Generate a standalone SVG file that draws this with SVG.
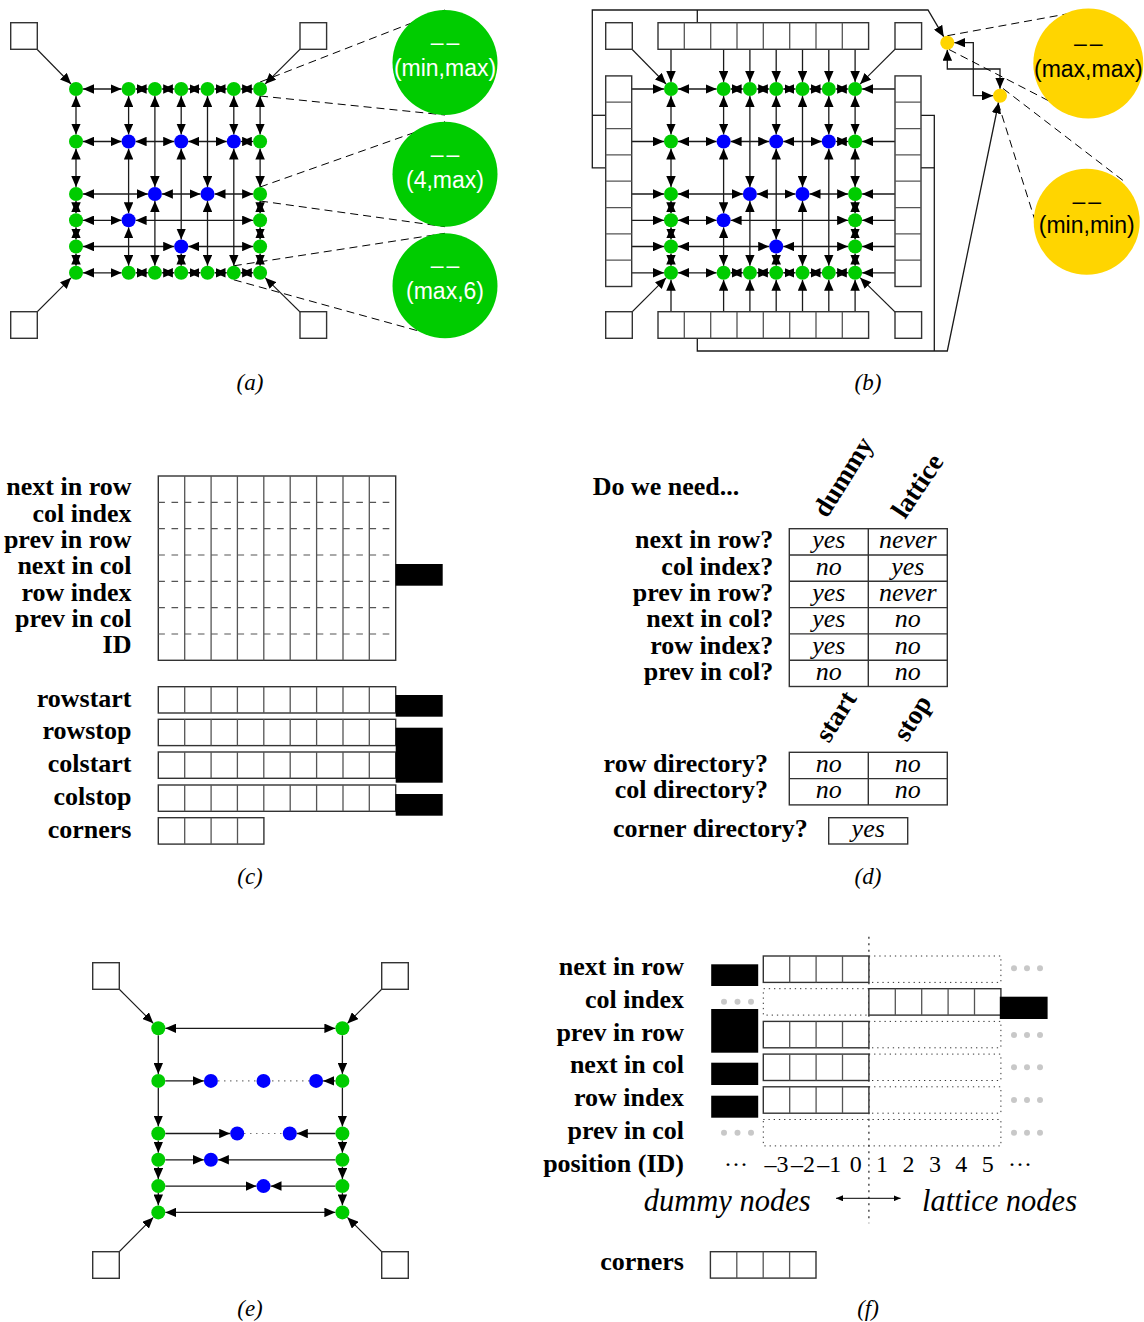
<svg xmlns="http://www.w3.org/2000/svg" xmlns:xlink="http://www.w3.org/1999/xlink" width="1144" height="1322" viewBox="0 0 1144 1322">
<style>
.ln{stroke:#1a1a1a;stroke-width:1.3;fill:none}
.thin{stroke:#1a1a1a;stroke-width:1.1;fill:none}
.dbl{marker-start:url(#ah);marker-end:url(#ah)}
.one{marker-end:url(#ah)}
.dash{stroke:#000;stroke-width:1;stroke-dasharray:8 5;fill:none}
.gdash{stroke:#555;stroke-width:1.2;stroke-dasharray:6.6 6.6;fill:none}
.box{fill:#fff;stroke:#333;stroke-width:1.4}
.div{stroke:#555;stroke-width:1.3;fill:none}
.tbl{fill:none;stroke:#333;stroke-width:1.4}
.grn{fill:#00cc00}
.blu{fill:#0000ff}
.ylw{fill:#ffd500}
.blk{fill:#000}
.sans{font-family:"Liberation Sans",Arial,sans-serif;font-size:23px;text-anchor:middle}
.lb{font-family:"Liberation Serif","Times New Roman",serif;font-weight:bold;font-size:26px;text-anchor:end}
.lbs{font-family:"Liberation Serif","Times New Roman",serif;font-weight:bold;font-size:26px;text-anchor:start}
.rot{font-family:"Liberation Serif","Times New Roman",serif;font-weight:bold;font-size:27px;text-anchor:start}
.it{font-family:"Liberation Serif","Times New Roman",serif;font-style:italic;font-size:26px;text-anchor:middle}
.big{font-family:"Liberation Serif","Times New Roman",serif;font-style:italic;font-size:30.5px}
.cap{font-family:"Liberation Serif","Times New Roman",serif;font-style:italic;font-size:23px;text-anchor:middle}
.num{font-family:"Liberation Serif","Times New Roman",serif;font-size:24px;text-anchor:middle}
.dot{fill:#c8c8c8}
.dotted{stroke:#333;stroke-width:1;stroke-dasharray:1.3 3.9;fill:none}
.vdot{stroke:#222;stroke-width:1.2;stroke-dasharray:2 4.5;fill:none}
.gdot{stroke:#777;stroke-width:1.2;stroke-dasharray:1.5 4.5;fill:none}
</style>
<defs>
<marker id="ah" viewBox="0 0 11 9.5" refX="11" refY="4.75" markerWidth="11" markerHeight="9.5" markerUnits="userSpaceOnUse" orient="auto-start-reverse"><path d="M0,0 L11,4.75 L0,9.5 z" fill="#000"/></marker>
<marker id="ahs" viewBox="0 0 7 6" refX="7" refY="3" markerWidth="7" markerHeight="6" markerUnits="userSpaceOnUse" orient="auto-start-reverse"><path d="M0,0 L7,3 L0,6 z" fill="#000"/></marker>
<!-- array strips: 9, 8 (horizontal / vertical), 5 and 4 cells -->
<g id="c9"><rect class="box" x="0" y="0" width="237.4" height="26.3"/><path class="div" d="M26.4,0v26.3M52.8,0v26.3M79.1,0v26.3M105.5,0v26.3M131.9,0v26.3M158.3,0v26.3M184.7,0v26.3M211,0v26.3"/></g>
<g id="c8h"><rect class="box" x="0" y="0" width="210.6" height="26.6"/><path class="div" d="M26.3,0v26.6M52.7,0v26.6M79,0v26.6M105.3,0v26.6M131.7,0v26.6M158,0v26.6M184.3,0v26.6"/></g>
<g id="c8v"><rect class="box" x="0" y="0" width="26" height="210.6"/><path class="div" d="M0,26.3h26M0,52.7h26M0,79h26M0,105.3h26M0,131.7h26M0,158h26M0,184.3h26"/></g>
<g id="c5"><rect class="box" x="0" y="0" width="132" height="26.4"/><path class="div" d="M26.4,0v26.4M52.8,0v26.4M79.2,0v26.4M105.6,0v26.4"/></g>
<g id="c4"><rect class="box" x="0" y="0" width="105.6" height="26.4"/><path class="div" d="M26.4,0v26.4M52.8,0v26.4M79.2,0v26.4"/></g>
</defs>
<rect x="0" y="0" width="1144" height="1322" fill="#fff"/>

<!-- ===================== (a) ===================== -->
<g id="a-connectors">
  <g class="ln dbl">
    <line x1="83" y1="89" x2="121.6" y2="89"/><line x1="135.6" y1="89" x2="147.9" y2="89"/><line x1="161.9" y1="89" x2="174.2" y2="89"/><line x1="188.2" y1="89" x2="200.5" y2="89"/><line x1="214.5" y1="89" x2="226.8" y2="89"/><line x1="240.8" y1="89" x2="253.1" y2="89"/>
    <line x1="83" y1="141.5" x2="121.6" y2="141.5"/><line x1="135.6" y1="141.5" x2="174.2" y2="141.5"/><line x1="188.2" y1="141.5" x2="226.8" y2="141.5"/><line x1="240.8" y1="141.5" x2="253.1" y2="141.5"/>
    <line x1="83" y1="194" x2="147.9" y2="194"/><line x1="161.9" y1="194" x2="200.5" y2="194"/><line x1="214.5" y1="194" x2="253.1" y2="194"/>
    <line x1="83" y1="220.3" x2="121.6" y2="220.3"/><line x1="135.6" y1="220.3" x2="253.1" y2="220.3"/>
    <line x1="83" y1="246.5" x2="174.2" y2="246.5"/><line x1="188.2" y1="246.5" x2="253.1" y2="246.5"/>
    <line x1="83" y1="272.8" x2="121.6" y2="272.8"/><line x1="135.6" y1="272.8" x2="147.9" y2="272.8"/><line x1="161.9" y1="272.8" x2="174.2" y2="272.8"/><line x1="188.2" y1="272.8" x2="200.5" y2="272.8"/><line x1="214.5" y1="272.8" x2="226.8" y2="272.8"/><line x1="240.8" y1="272.8" x2="253.1" y2="272.8"/>
    <line x1="76" y1="96" x2="76" y2="134.5"/><line x1="76" y1="148.5" x2="76" y2="187"/><line x1="76" y1="201" x2="76" y2="213.3"/><line x1="76" y1="227.3" x2="76" y2="239.5"/><line x1="76" y1="253.5" x2="76" y2="265.8"/>
    <line x1="128.6" y1="96" x2="128.6" y2="134.5"/><line x1="128.6" y1="148.5" x2="128.6" y2="213.3"/><line x1="128.6" y1="227.3" x2="128.6" y2="265.8"/>
    <line x1="154.9" y1="96" x2="154.9" y2="187"/><line x1="154.9" y1="201" x2="154.9" y2="265.8"/>
    <line x1="181.2" y1="96" x2="181.2" y2="134.5"/><line x1="181.2" y1="148.5" x2="181.2" y2="239.5"/><line x1="181.2" y1="253.5" x2="181.2" y2="265.8"/>
    <line x1="207.5" y1="96" x2="207.5" y2="187"/><line x1="207.5" y1="201" x2="207.5" y2="265.8"/>
    <line x1="233.8" y1="96" x2="233.8" y2="134.5"/><line x1="233.8" y1="148.5" x2="233.8" y2="265.8"/>
    <line x1="260.1" y1="96" x2="260.1" y2="134.5"/><line x1="260.1" y1="148.5" x2="260.1" y2="187"/><line x1="260.1" y1="201" x2="260.1" y2="213.3"/><line x1="260.1" y1="227.3" x2="260.1" y2="239.5"/><line x1="260.1" y1="253.5" x2="260.1" y2="265.8"/>
  </g>
  <g class="thin one">
    <line x1="24" y1="36" x2="71.1" y2="84"/><line x1="313.3" y1="36" x2="265.1" y2="84.1"/>
    <line x1="24" y1="325" x2="71.1" y2="277.8"/><line x1="313.3" y1="325" x2="265.1" y2="277.7"/>
  </g>
  <g class="dash">
    <line x1="260.1" y1="82" x2="445" y2="10"/><line x1="260.1" y1="96" x2="445" y2="115"/>
    <line x1="260.1" y1="187" x2="445" y2="121.7"/><line x1="260.1" y1="201" x2="445" y2="226.7"/>
    <line x1="233.8" y1="265.8" x2="445" y2="233.3"/><line x1="233.8" y1="279.8" x2="445" y2="338.3"/>
  </g>
</g>
<g id="a-corner-tl"><rect class="box" x="10.7" y="22.7" width="26.6" height="26.6"/></g>
<g id="a-corner-tr"><rect class="box" x="300" y="22.7" width="26.6" height="26.6"/></g>
<g id="a-corner-bl"><rect class="box" x="10.7" y="311.7" width="26.6" height="26.6"/></g>
<g id="a-corner-br"><rect class="box" x="300" y="311.7" width="26.6" height="26.6"/></g>
<g id="a-lattice" class="grn">
  <g id="a-n0-0"><circle cx="76" cy="89" r="7"/></g><g id="a-n0-2"><circle cx="128.6" cy="89" r="7"/></g><g id="a-n0-3"><circle cx="154.9" cy="89" r="7"/></g><g id="a-n0-4"><circle cx="181.2" cy="89" r="7"/></g><g id="a-n0-5"><circle cx="207.5" cy="89" r="7"/></g><g id="a-n0-6"><circle cx="233.8" cy="89" r="7"/></g><g id="a-n0-7"><circle cx="260.1" cy="89" r="7"/></g>
  <g id="a-n7-0"><circle cx="76" cy="272.8" r="7"/></g><g id="a-n7-2"><circle cx="128.6" cy="272.8" r="7"/></g><g id="a-n7-3"><circle cx="154.9" cy="272.8" r="7"/></g><g id="a-n7-4"><circle cx="181.2" cy="272.8" r="7"/></g><g id="a-n7-5"><circle cx="207.5" cy="272.8" r="7"/></g><g id="a-n7-6"><circle cx="233.8" cy="272.8" r="7"/></g><g id="a-n7-7"><circle cx="260.1" cy="272.8" r="7"/></g>
  <g id="a-n2-0"><circle cx="76" cy="141.5" r="7"/></g><g id="a-n4-0"><circle cx="76" cy="194" r="7"/></g><g id="a-n5-0"><circle cx="76" cy="220.3" r="7"/></g><g id="a-n6-0"><circle cx="76" cy="246.5" r="7"/></g>
  <g id="a-n2-7"><circle cx="260.1" cy="141.5" r="7"/></g><g id="a-n4-7"><circle cx="260.1" cy="194" r="7"/></g><g id="a-n5-7"><circle cx="260.1" cy="220.3" r="7"/></g><g id="a-n6-7"><circle cx="260.1" cy="246.5" r="7"/></g>
</g>
<g id="a-inner" class="blu">
  <g id="a-n2-2"><circle cx="128.6" cy="141.5" r="7"/></g><g id="a-n2-4"><circle cx="181.2" cy="141.5" r="7"/></g><g id="a-n2-6"><circle cx="233.8" cy="141.5" r="7"/></g>
  <g id="a-n4-3"><circle cx="154.9" cy="194" r="7"/></g><g id="a-n4-5"><circle cx="207.5" cy="194" r="7"/></g>
  <g id="a-n5-2"><circle cx="128.6" cy="220.3" r="7"/></g><g id="a-n6-4"><circle cx="181.2" cy="246.5" r="7"/></g>
</g>
<g id="a-zoom-minmax"><circle class="grn" cx="445" cy="62.5" r="52.5"/><text class="sans" fill="#fff" x="445" y="50">–<tspan dx="3">–</tspan></text><text class="sans" fill="#fff" x="445" y="76">(min,max)</text></g>
<g id="a-zoom-4max"><circle class="grn" cx="445" cy="174.2" r="52.5"/><text class="sans" fill="#fff" x="445" y="161.7">–<tspan dx="3">–</tspan></text><text class="sans" fill="#fff" x="445" y="187.7">(4,max)</text></g>
<g id="a-zoom-max6"><circle class="grn" cx="445" cy="285.8" r="52.5"/><text class="sans" fill="#fff" x="445" y="273.3">–<tspan dx="3">–</tspan></text><text class="sans" fill="#fff" x="445" y="299.3">(max,6)</text></g>
<text class="cap" x="250" y="390">(a)</text>

<!-- ===================== (b) ===================== -->
<g id="b-connectors">
  <g class="ln dbl" transform="translate(595 0)">
    <line x1="83" y1="89" x2="121.6" y2="89"/><line x1="135.6" y1="89" x2="147.9" y2="89"/><line x1="161.9" y1="89" x2="174.2" y2="89"/><line x1="188.2" y1="89" x2="200.5" y2="89"/><line x1="214.5" y1="89" x2="226.8" y2="89"/><line x1="240.8" y1="89" x2="253.1" y2="89"/>
    <line x1="83" y1="141.5" x2="121.6" y2="141.5"/><line x1="135.6" y1="141.5" x2="174.2" y2="141.5"/><line x1="188.2" y1="141.5" x2="226.8" y2="141.5"/><line x1="240.8" y1="141.5" x2="253.1" y2="141.5"/>
    <line x1="83" y1="194" x2="147.9" y2="194"/><line x1="161.9" y1="194" x2="200.5" y2="194"/><line x1="214.5" y1="194" x2="253.1" y2="194"/>
    <line x1="83" y1="220.3" x2="121.6" y2="220.3"/><line x1="135.6" y1="220.3" x2="253.1" y2="220.3"/>
    <line x1="83" y1="246.5" x2="174.2" y2="246.5"/><line x1="188.2" y1="246.5" x2="253.1" y2="246.5"/>
    <line x1="83" y1="272.8" x2="121.6" y2="272.8"/><line x1="135.6" y1="272.8" x2="147.9" y2="272.8"/><line x1="161.9" y1="272.8" x2="174.2" y2="272.8"/><line x1="188.2" y1="272.8" x2="200.5" y2="272.8"/><line x1="214.5" y1="272.8" x2="226.8" y2="272.8"/><line x1="240.8" y1="272.8" x2="253.1" y2="272.8"/>
    <line x1="76" y1="96" x2="76" y2="134.5"/><line x1="76" y1="148.5" x2="76" y2="187"/><line x1="76" y1="201" x2="76" y2="213.3"/><line x1="76" y1="227.3" x2="76" y2="239.5"/><line x1="76" y1="253.5" x2="76" y2="265.8"/>
    <line x1="128.6" y1="96" x2="128.6" y2="134.5"/><line x1="128.6" y1="148.5" x2="128.6" y2="213.3"/><line x1="128.6" y1="227.3" x2="128.6" y2="265.8"/>
    <line x1="154.9" y1="96" x2="154.9" y2="187"/><line x1="154.9" y1="201" x2="154.9" y2="265.8"/>
    <line x1="181.2" y1="96" x2="181.2" y2="134.5"/><line x1="181.2" y1="148.5" x2="181.2" y2="239.5"/><line x1="181.2" y1="253.5" x2="181.2" y2="265.8"/>
    <line x1="207.5" y1="96" x2="207.5" y2="187"/><line x1="207.5" y1="201" x2="207.5" y2="265.8"/>
    <line x1="233.8" y1="96" x2="233.8" y2="134.5"/><line x1="233.8" y1="148.5" x2="233.8" y2="265.8"/>
    <line x1="260.1" y1="96" x2="260.1" y2="134.5"/><line x1="260.1" y1="148.5" x2="260.1" y2="187"/><line x1="260.1" y1="201" x2="260.1" y2="213.3"/><line x1="260.1" y1="227.3" x2="260.1" y2="239.5"/><line x1="260.1" y1="253.5" x2="260.1" y2="265.8"/>
  </g>
  <!-- directory entries pointing into the lattice border -->
  <g class="ln one">
    <line x1="671" y1="36" x2="671" y2="82"/><line x1="723.6" y1="36" x2="723.6" y2="82"/><line x1="749.9" y1="36" x2="749.9" y2="82"/><line x1="776.2" y1="36" x2="776.2" y2="82"/><line x1="802.5" y1="36" x2="802.5" y2="82"/><line x1="828.8" y1="36" x2="828.8" y2="82"/><line x1="855.1" y1="36" x2="855.1" y2="82"/>
    <line x1="671" y1="325" x2="671" y2="279.8"/><line x1="723.6" y1="325" x2="723.6" y2="279.8"/><line x1="749.9" y1="325" x2="749.9" y2="279.8"/><line x1="776.2" y1="325" x2="776.2" y2="279.8"/><line x1="802.5" y1="325" x2="802.5" y2="279.8"/><line x1="828.8" y1="325" x2="828.8" y2="279.8"/><line x1="855.1" y1="325" x2="855.1" y2="279.8"/>
    <line x1="618.7" y1="89" x2="664" y2="89"/><line x1="618.7" y1="141.5" x2="664" y2="141.5"/><line x1="618.7" y1="194" x2="664" y2="194"/><line x1="618.7" y1="220.3" x2="664" y2="220.3"/><line x1="618.7" y1="246.5" x2="664" y2="246.5"/><line x1="618.7" y1="272.8" x2="664" y2="272.8"/>
    <line x1="908.3" y1="89" x2="862.1" y2="89"/><line x1="908.3" y1="141.5" x2="862.1" y2="141.5"/><line x1="908.3" y1="194" x2="862.1" y2="194"/><line x1="908.3" y1="220.3" x2="862.1" y2="220.3"/><line x1="908.3" y1="246.5" x2="862.1" y2="246.5"/><line x1="908.3" y1="272.8" x2="862.1" y2="272.8"/>
    <path d="M618.7,167.8 H592.3 V10 H928 L943.7,36.7"/>
    <path d="M697.3,325 V351 H947.3 L998.6,102.5"/>
  </g>
  <g class="ln">
    <path d="M697.3,36 V10"/>
    <path d="M618.7,115.3 H592.3"/>
    <path d="M908.3,115.3 H934.3 V351"/>
    <path d="M908.3,167.8 H934.3"/>
  </g>
  <g class="thin one">
    <line x1="619" y1="36" x2="666.1" y2="84"/><line x1="908.3" y1="36" x2="860.1" y2="84.1"/>
    <line x1="619" y1="325" x2="666.1" y2="277.8"/><line x1="908.3" y1="325" x2="860.1" y2="277.7"/>
  </g>
  <g class="ln dbl">
    <path d="M947.3,49.7 V69 H1000 V88.7"/>
    <path d="M954.3,42.7 H973.3 V95.7 H993"/>
  </g>
  <g class="dash">
    <line x1="947.3" y1="35.7" x2="1072" y2="13"/><line x1="949" y1="49.5" x2="1051" y2="102"/>
    <line x1="1003" y1="88.5" x2="1125" y2="182"/><line x1="998" y1="102.7" x2="1035.5" y2="222"/>
  </g>
</g>
<g id="b-corner-tl"><rect class="box" x="605.7" y="22.7" width="26.6" height="26.6"/></g>
<g id="b-corner-tr"><rect class="box" x="895" y="22.7" width="26.6" height="26.6"/></g>
<g id="b-corner-bl"><rect class="box" x="605.7" y="311.7" width="26.6" height="26.6"/></g>
<g id="b-corner-br"><rect class="box" x="895" y="311.7" width="26.6" height="26.6"/></g>
<g id="b-colstart"><use xlink:href="#c8h" x="658" y="22.7"/></g>
<g id="b-colstop"><use xlink:href="#c8h" x="658" y="311.7"/></g>
<g id="b-rowstart"><use xlink:href="#c8v" x="605.7" y="75.9"/></g>
<g id="b-rowstop"><use xlink:href="#c8v" x="895" y="75.9"/></g>
<g id="b-lattice" class="grn">
  <g id="b-n0-0"><circle cx="671" cy="89" r="7"/></g><g id="b-n0-2"><circle cx="723.6" cy="89" r="7"/></g><g id="b-n0-3"><circle cx="749.9" cy="89" r="7"/></g><g id="b-n0-4"><circle cx="776.2" cy="89" r="7"/></g><g id="b-n0-5"><circle cx="802.5" cy="89" r="7"/></g><g id="b-n0-6"><circle cx="828.8" cy="89" r="7"/></g><g id="b-n0-7"><circle cx="855.1" cy="89" r="7"/></g>
  <g id="b-n7-0"><circle cx="671" cy="272.8" r="7"/></g><g id="b-n7-2"><circle cx="723.6" cy="272.8" r="7"/></g><g id="b-n7-3"><circle cx="749.9" cy="272.8" r="7"/></g><g id="b-n7-4"><circle cx="776.2" cy="272.8" r="7"/></g><g id="b-n7-5"><circle cx="802.5" cy="272.8" r="7"/></g><g id="b-n7-6"><circle cx="828.8" cy="272.8" r="7"/></g><g id="b-n7-7"><circle cx="855.1" cy="272.8" r="7"/></g>
  <g id="b-n2-0"><circle cx="671" cy="141.5" r="7"/></g><g id="b-n4-0"><circle cx="671" cy="194" r="7"/></g><g id="b-n5-0"><circle cx="671" cy="220.3" r="7"/></g><g id="b-n6-0"><circle cx="671" cy="246.5" r="7"/></g>
  <g id="b-n2-7"><circle cx="855.1" cy="141.5" r="7"/></g><g id="b-n4-7"><circle cx="855.1" cy="194" r="7"/></g><g id="b-n5-7"><circle cx="855.1" cy="220.3" r="7"/></g><g id="b-n6-7"><circle cx="855.1" cy="246.5" r="7"/></g>
</g>
<g id="b-inner" class="blu">
  <g id="b-n2-2"><circle cx="723.6" cy="141.5" r="7"/></g><g id="b-n2-4"><circle cx="776.2" cy="141.5" r="7"/></g><g id="b-n2-6"><circle cx="828.8" cy="141.5" r="7"/></g>
  <g id="b-n4-3"><circle cx="749.9" cy="194" r="7"/></g><g id="b-n4-5"><circle cx="802.5" cy="194" r="7"/></g>
  <g id="b-n5-2"><circle cx="723.6" cy="220.3" r="7"/></g><g id="b-n6-4"><circle cx="776.2" cy="246.5" r="7"/></g>
</g>
<g id="b-maxmax"><circle class="ylw" cx="947.3" cy="42.7" r="7"/></g>
<g id="b-minmin"><circle class="ylw" cx="1000" cy="95.7" r="7"/></g>
<g id="b-zoom-maxmax"><circle class="ylw" cx="1088.3" cy="63.5" r="55"/><text class="sans" fill="#000" x="1088.3" y="50.5">–<tspan dx="3">–</tspan></text><text class="sans" fill="#000" x="1088.3" y="76.5">(max,max)</text></g>
<g id="b-zoom-minmin"><circle class="ylw" cx="1086.7" cy="221.7" r="53"/><text class="sans" fill="#000" x="1086.7" y="208.7">–<tspan dx="3">–</tspan></text><text class="sans" fill="#000" x="1086.7" y="232.5">(min,min)</text></g>
<text class="cap" x="868" y="390">(b)</text>

<!-- ===================== (c) ===================== -->
<g id="c-nodes">
  <rect class="box" x="158.3" y="476" width="237.4" height="184.3"/>
  <path class="gdash" d="M158.3,502.3H395.7M158.3,528.6H395.7M158.3,555H395.7M158.3,581.3H395.7M158.3,607.6H395.7M158.3,634H395.7"/>
  <path class="div" d="M184.7,476v184.3M211.1,476v184.3M237.4,476v184.3M263.8,476v184.3M290.2,476v184.3M316.6,476v184.3M343,476v184.3M369.3,476v184.3"/>
  <rect class="blk" x="395.7" y="564" width="47" height="21.7"/>
  <use xlink:href="#c9" x="158.3" y="686.7"/>
  <use xlink:href="#c9" x="158.3" y="719.3"/>
  <use xlink:href="#c9" x="158.3" y="752"/>
  <use xlink:href="#c9" x="158.3" y="785"/>
  <use xlink:href="#c4" x="158.3" y="817.7"/>
  <rect class="blk" x="395.7" y="695" width="47" height="21.7"/>
  <rect class="blk" x="395.7" y="727.7" width="47" height="55"/>
  <rect class="blk" x="395.7" y="794" width="47" height="21.7"/>
</g>
<g id="c-labels">
  <text class="lb" x="131.5" y="495.3">next in row</text>
  <text class="lb" x="131.5" y="521.6">col index</text>
  <text class="lb" x="131.5" y="547.9">prev in row</text>
  <text class="lb" x="131.5" y="574.2">next in col</text>
  <text class="lb" x="131.5" y="600.5">row index</text>
  <text class="lb" x="131.5" y="626.8">prev in col</text>
  <text class="lb" x="131.5" y="653.1">ID</text>
  <text class="lb" x="131.5" y="706.5">rowstart</text>
  <text class="lb" x="131.5" y="739.3">rowstop</text>
  <text class="lb" x="131.5" y="772">colstart</text>
  <text class="lb" x="131.5" y="805">colstop</text>
  <text class="lb" x="131.5" y="837.5">corners</text>
</g>
<text class="cap" x="250" y="884">(c)</text>

<!-- ===================== (d) ===================== -->
<g id="d-table">
  <text class="lbs" x="592.7" y="495">Do we need...</text>
  <text class="rot" transform="translate(827 519) rotate(-58)">dummy</text>
  <text class="rot" transform="translate(905 520) rotate(-56)">lattice</text>
  <rect class="tbl" x="789.3" y="528.7" width="158" height="157.8"/>
  <path class="tbl" d="M868.3,528.7V686.5M789.3,555H947.3M789.3,581.3H947.3M789.3,607.6H947.3M789.3,633.9H947.3M789.3,660.2H947.3"/>
  <text class="lb" x="773.3" y="548.3">next in row?</text>
  <text class="lb" x="773.3" y="574.6">col index?</text>
  <text class="lb" x="773.3" y="600.9">prev in row?</text>
  <text class="lb" x="773.3" y="627.2">next in col?</text>
  <text class="lb" x="773.3" y="653.5">row index?</text>
  <text class="lb" x="773.3" y="679.8">prev in col?</text>
  <text class="it" x="828.8" y="548.3">yes</text><text class="it" x="907.8" y="548.3">never</text>
  <text class="it" x="828.8" y="574.6">no</text><text class="it" x="907.8" y="574.6">yes</text>
  <text class="it" x="828.8" y="600.9">yes</text><text class="it" x="907.8" y="600.9">never</text>
  <text class="it" x="828.8" y="627.2">yes</text><text class="it" x="907.8" y="627.2">no</text>
  <text class="it" x="828.8" y="653.5">yes</text><text class="it" x="907.8" y="653.5">no</text>
  <text class="it" x="828.8" y="679.8">no</text><text class="it" x="907.8" y="679.8">no</text>
</g>
<g id="d-directories">
  <text class="rot" transform="translate(829 744) rotate(-58)">start</text>
  <text class="rot" transform="translate(907 743) rotate(-58)">stop</text>
  <rect class="tbl" x="789.3" y="752.3" width="158" height="52.6"/>
  <path class="tbl" d="M868.3,752.3V804.9M789.3,778.6H947.3"/>
  <text class="lb" x="768" y="771.7">row directory?</text>
  <text class="lb" x="768" y="798">col directory?</text>
  <text class="it" x="828.8" y="771.7">no</text><text class="it" x="907.8" y="771.7">no</text>
  <text class="it" x="828.8" y="798">no</text><text class="it" x="907.8" y="798">no</text>
  <text class="lb" x="807.7" y="836.7">corner directory?</text>
  <rect class="tbl" x="828.7" y="817.7" width="79" height="26.3"/>
  <text class="it" x="868.2" y="836.7">yes</text>
</g>
<text class="cap" x="868" y="884">(d)</text>

<!-- ===================== (e) ===================== -->
<g id="e-connectors">
  <g class="ln dbl">
    <line x1="165.3" y1="1028.3" x2="335.4" y2="1028.3"/>
    <line x1="165.3" y1="1212.4" x2="335.4" y2="1212.4"/>
  </g>
  <g class="ln one">
    <line x1="158.3" y1="1035.3" x2="158.3" y2="1073.9"/><line x1="158.3" y1="1087.9" x2="158.3" y2="1126.5"/><line x1="158.3" y1="1140.5" x2="158.3" y2="1152.8"/><line x1="158.3" y1="1166.8" x2="158.3" y2="1179.1"/><line x1="158.3" y1="1193.1" x2="158.3" y2="1205.4"/>
    <line x1="342.4" y1="1035.3" x2="342.4" y2="1073.9"/><line x1="342.4" y1="1087.9" x2="342.4" y2="1126.5"/><line x1="342.4" y1="1140.5" x2="342.4" y2="1152.8"/><line x1="342.4" y1="1166.8" x2="342.4" y2="1179.1"/><line x1="342.4" y1="1193.1" x2="342.4" y2="1205.4"/>
    <line x1="165.3" y1="1080.9" x2="203.9" y2="1080.9"/><line x1="335.4" y1="1080.9" x2="323.1" y2="1080.9"/>
    <line x1="165.3" y1="1133.5" x2="230.2" y2="1133.5"/><line x1="335.4" y1="1133.5" x2="296.8" y2="1133.5"/>
    <line x1="165.3" y1="1159.8" x2="203.9" y2="1159.8"/><line x1="335.4" y1="1159.8" x2="217.9" y2="1159.8"/>
    <line x1="165.3" y1="1186.1" x2="256.5" y2="1186.1"/><line x1="335.4" y1="1186.1" x2="270.5" y2="1186.1"/>
  </g>
  <g class="gdot">
    <line x1="218" y1="1080.9" x2="309" y2="1080.9"/>
    <line x1="244" y1="1133.5" x2="283" y2="1133.5"/>
  </g>
  <g class="thin one">
    <line x1="106" y1="976" x2="153.3" y2="1023.3"/><line x1="395" y1="976" x2="347.4" y2="1023.4"/>
    <line x1="106" y1="1265" x2="153.3" y2="1217.4"/><line x1="395" y1="1265" x2="347.4" y2="1217.4"/>
  </g>
</g>
<g id="e-corner-tl"><rect class="box" x="92.7" y="962.7" width="26.6" height="26.6"/></g>
<g id="e-corner-tr"><rect class="box" x="381.7" y="962.7" width="26.6" height="26.6"/></g>
<g id="e-corner-bl"><rect class="box" x="92.7" y="1251.7" width="26.6" height="26.6"/></g>
<g id="e-corner-br"><rect class="box" x="381.7" y="1251.7" width="26.6" height="26.6"/></g>
<g id="e-border" class="grn">
  <g id="e-n0-0"><circle cx="158.3" cy="1028.3" r="7"/></g><g id="e-n0-7"><circle cx="342.4" cy="1028.3" r="7"/></g>
  <g id="e-n2-0"><circle cx="158.3" cy="1080.9" r="7"/></g><g id="e-n2-7"><circle cx="342.4" cy="1080.9" r="7"/></g>
  <g id="e-n4-0"><circle cx="158.3" cy="1133.5" r="7"/></g><g id="e-n4-7"><circle cx="342.4" cy="1133.5" r="7"/></g>
  <g id="e-n5-0"><circle cx="158.3" cy="1159.8" r="7"/></g><g id="e-n5-7"><circle cx="342.4" cy="1159.8" r="7"/></g>
  <g id="e-n6-0"><circle cx="158.3" cy="1186.1" r="7"/></g><g id="e-n6-7"><circle cx="342.4" cy="1186.1" r="7"/></g>
  <g id="e-n7-0"><circle cx="158.3" cy="1212.4" r="7"/></g><g id="e-n7-7"><circle cx="342.4" cy="1212.4" r="7"/></g>
</g>
<g id="e-inner" class="blu">
  <g id="e-n2-2"><circle cx="210.9" cy="1080.9" r="7"/></g><g id="e-n2-4"><circle cx="263.5" cy="1080.9" r="7"/></g><g id="e-n2-6"><circle cx="316.1" cy="1080.9" r="7"/></g>
  <g id="e-n4-3"><circle cx="237.2" cy="1133.5" r="7"/></g><g id="e-n4-5"><circle cx="289.8" cy="1133.5" r="7"/></g>
  <g id="e-n5-2"><circle cx="210.9" cy="1159.8" r="7"/></g><g id="e-n6-4"><circle cx="263.5" cy="1186.1" r="7"/></g>
</g>
<text class="cap" x="250" y="1316">(e)</text>

<!-- ===================== (f) ===================== -->
<g id="f-arrays">
  <path class="vdot" d="M868.9,936.7V1223.3"/>
  <use xlink:href="#c4" x="763.3" y="956"/>
  <path class="dotted" d="M868.9,956H1000.9V982.4H868.9"/>
  <path class="dotted" d="M868.9,988.7H763.3V1015.1H868.9"/>
  <use xlink:href="#c5" x="868.9" y="988.7"/>
  <use xlink:href="#c4" x="763.3" y="1021.4"/>
  <path class="dotted" d="M868.9,1021.4H1000.9V1047.8H868.9"/>
  <use xlink:href="#c4" x="763.3" y="1054.1"/>
  <path class="dotted" d="M868.9,1054.1H1000.9V1080.5H868.9"/>
  <use xlink:href="#c4" x="763.3" y="1086.8"/>
  <path class="dotted" d="M868.9,1086.8H1000.9V1113.2H868.9"/>
  <path class="dotted" d="M763.3,1119.5H1000.9V1145.9H763.3Z"/>
  <rect class="blk" x="711.2" y="964.3" width="47" height="21.7"/>
  <rect class="blk" x="711.2" y="1009" width="47" height="43.7"/>
  <rect class="blk" x="711.2" y="1062.7" width="47" height="22.3"/>
  <rect class="blk" x="711.2" y="1095.7" width="47" height="22"/>
  <rect class="blk" x="999.8" y="996.7" width="47.8" height="22.3"/>
  <g class="dot">
    <circle cx="724" cy="1001.7" r="3"/><circle cx="737.5" cy="1001.7" r="3"/><circle cx="751" cy="1001.7" r="3"/>
    <circle cx="724" cy="1132.7" r="3"/><circle cx="737.5" cy="1132.7" r="3"/><circle cx="751" cy="1132.7" r="3"/>
    <circle cx="1014" cy="968.3" r="3"/><circle cx="1027" cy="968.3" r="3"/><circle cx="1040" cy="968.3" r="3"/>
    <circle cx="1014" cy="1035" r="3"/><circle cx="1027" cy="1035" r="3"/><circle cx="1040" cy="1035" r="3"/>
    <circle cx="1014" cy="1067.3" r="3"/><circle cx="1027" cy="1067.3" r="3"/><circle cx="1040" cy="1067.3" r="3"/>
    <circle cx="1014" cy="1100" r="3"/><circle cx="1027" cy="1100" r="3"/><circle cx="1040" cy="1100" r="3"/>
    <circle cx="1014" cy="1132.7" r="3"/><circle cx="1027" cy="1132.7" r="3"/><circle cx="1040" cy="1132.7" r="3"/>
  </g>
  <use xlink:href="#c4" x="710.4" y="1251.7"/>
</g>
<g id="f-labels">
  <text class="lb" x="684" y="975">next in row</text>
  <text class="lb" x="684" y="1008.3">col index</text>
  <text class="lb" x="684" y="1040.5">prev in row</text>
  <text class="lb" x="684" y="1073.3">next in col</text>
  <text class="lb" x="684" y="1106">row index</text>
  <text class="lb" x="684" y="1138.5">prev in col</text>
  <text class="lb" x="684" y="1171.5">position (ID)</text>
  <text class="lb" x="684" y="1270">corners</text>
  <text class="num" x="736" y="1171.5">···</text>
  <text class="num" x="776.5" y="1171.5">–3</text><text class="num" x="802.9" y="1171.5">–2</text><text class="num" x="829.3" y="1171.5">–1</text><text class="num" x="855.7" y="1171.5">0</text>
  <text class="num" x="882.1" y="1171.5">1</text><text class="num" x="908.5" y="1171.5">2</text><text class="num" x="934.9" y="1171.5">3</text><text class="num" x="961.3" y="1171.5">4</text><text class="num" x="987.7" y="1171.5">5</text>
  <text class="num" x="1020" y="1171.5">···</text>
  <text class="big" x="643.7" y="1211">dummy nodes</text>
  <text class="big" x="922" y="1211">lattice nodes</text>
  <line x1="836" y1="1198.3" x2="900.6" y2="1198.3" stroke="#000" stroke-width="1" marker-start="url(#ahs)" marker-end="url(#ahs)"/>
</g>
<text class="cap" x="868" y="1316">(f)</text>
</svg>
